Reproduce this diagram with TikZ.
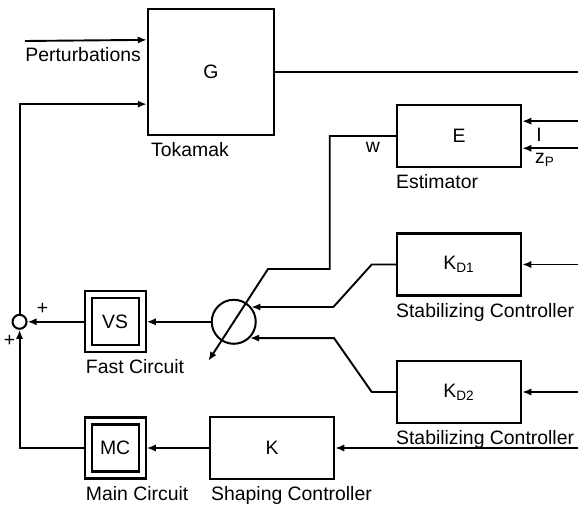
\documentclass[tikz,border=0pt]{standalone}
\usepackage{fontspec}
\setmainfont{Liberation Sans}
\usetikzlibrary{positioning, arrows.meta, calc}

\begin{document}
\begin{tikzpicture}[
  x=0.5pt, y=-0.5pt,
  node distance=32pt,
  every node/.style={font=\fontsize{9.7}{11.6}\selectfont},
  block/.style={draw, line width=1.25pt, minimum width=62pt, minimum height=31pt, inner sep=0pt},
  circbox/.style={draw, line width=1.1pt, double, double distance=2.4pt, minimum size=27pt, inner sep=0pt, outer sep=2.3pt},
  caption/.style={anchor=north west, inner sep=0pt},
  junction/.style={draw, circle, line width=1pt, minimum size=7pt, inner sep=0pt},
  arrow/.style={line width=0.95pt, -{Latex[length=4.5pt, width=3.6pt]}},
  wire/.style={line width=0.95pt},
]
  \useasboundingbox (0,0) rectangle (578,507);

  % Plant and estimator
  \node (G) [block, minimum width=63pt, minimum height=63pt] at (211,72) {G};
  \node (E) [block] at (459,136) {E};

  % Stabilizing controllers
  \node (KD1) [block, below=32pt of E] {K\textsubscript{D1}};
  \node (KD2) [block, below=31.5pt of KD1] {K\textsubscript{D2}};

  % Shaping controller, circuits and junctions
  \node (K) [block] at (272,448) {K};
  \node (MC) [circbox, left=31pt of K] {MC};
  \node (VS) [circbox, above=31.5pt of MC] {VS};
  \node (sw) [junction, minimum size=22pt, right=32pt of VS] {};
  \node (sum) [junction, left=28pt of VS] {};

  % Captions
  \node (gcap) [below=3pt of G.south west, caption, xshift=2pt] {Tokamak};
  \node (ecap) [below=3pt of E.south west, caption] {Estimator};
  \node (kd1cap) [below=3pt of KD1.south west, caption] {Stabilizing Controller};
  \node (kd2cap) [below=3pt of KD2.south west, caption] {Stabilizing Controller};
  \node (kcap) [below=3pt of K.south west, caption, xshift=1pt] {Shaping Controller};
  \node (vscap) [below=3pt of VS.south west, caption, xshift=1pt] {Fast Circuit};
  \node (mccap) [below=3pt of MC.south west, caption, xshift=1pt] {Main Circuit};

  % Free ends
  \coordinate (edge) at (578,0);
  \coordinate (pert) at (25,41);
  \coordinate (wbend) at (268,269);
  \coordinate (Ein1) at ($(E.north east)!0.27!(E.south east)$);
  \coordinate (Ein2) at ($(E.north east)!0.69!(E.south east)$);

  % Signal labels
  \node (pertlabel) [below=3pt of pert, caption] {Perturbations};
  \node (Ilabel) at (539,135) {I};
  \node (zlabel) at (545,160) {z\textsubscript{P}};
  \node (wlabel) at (373,147) {w};
  \node (plus1) at ([shift={(23,-13)}]sum) {+};
  \node (plus2) at ([shift={(-10,19)}]sum) {+};

  % Plant connections
  \draw [arrow] (pert) -- ($(G.north west)!0.25!(G.south west)$);
  \draw [arrow] (sum.north) |- ($(G.south west)!0.25!(G.north west)$);
  \draw [wire] (G.east) -- (G.east -| edge);

  % Estimator inputs and output
  \draw [arrow] (Ein1 -| edge) -- (Ein1);
  \draw [arrow] (Ein2 -| edge) -- (Ein2);
  \draw [arrow] (E.west) -- ++(-66,0) |- (wbend) -- ($(wbend)!1.74!(sw.center)$);

  % Controller inputs from the right
  \foreach \n in {KD1,KD2,K} {
    \draw [arrow] (\n.east -| edge) -- (\n.east);
  }

  % Stabilizing controllers into the switch
  \draw [arrow] (KD1.west) -- ++(-24,0) -- ([xshift=41pt]sw.40) -- (sw.40);
  \draw [arrow] (KD2.west) -- ++(-24,0) -- ([xshift=42pt]sw.-45) -- (sw.-45);

  % Circuits into the summing junction
  \draw [arrow] (sw.west) -- (VS.east);
  \draw [arrow] (VS.west) -- (sum.east);
  \draw [arrow] (K.west) -- (MC.east);
  \draw [arrow] (MC.west) -| (sum.south);

\end{tikzpicture}
\end{document}
